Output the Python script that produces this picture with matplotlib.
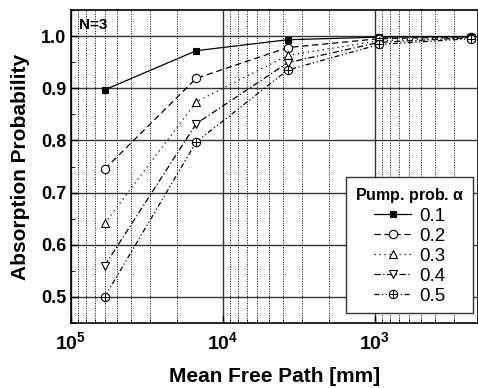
import numpy as np
import matplotlib.pyplot as plt
from matplotlib.path import Path
from matplotlib.ticker import MultipleLocator, LogLocator, NullFormatter

plt.rcParams['font.family'] = ['Liberation Sans', 'DejaVu Sans']
plt.rcParams['mathtext.fontset'] = 'custom'
plt.rcParams['mathtext.rm'] = 'Liberation Sans'
plt.rcParams['mathtext.bf'] = 'Liberation Sans:bold'

# data
mfp = [60000, 15000, 3750, 937.5, 234.4]
alphas = ['0.1', '0.2', '0.3', '0.4', '0.5']
p01 = [0.897, 0.972, 0.993, 0.998, 0.999]
p02 = [0.745, 0.919, 0.978, 0.995, 0.999]
p03 = [0.641, 0.874, 0.963, 0.991, 0.998]
p04 = [0.560, 0.832, 0.949, 0.988, 0.997]
p05 = [0.500, 0.797, 0.935, 0.984, 0.995]
series = [p01, p02, p03, p04, p05]
xtick_vals = [1e5, 1e4, 1e3]
xtick_labs = [r'$\mathbf{10^5}$', r'$\mathbf{10^4}$', r'$\mathbf{10^3}$']

# circle with a cross inside
cross = Path([(-1, 0), (1, 0), (0, -1), (0, 1)],
             [Path.MOVETO, Path.LINETO, Path.MOVETO, Path.LINETO])
oplus = Path.make_compound_path(Path.unit_circle(), cross)

styles = [
    dict(ls='-', marker='s', mfc='black', ms=5),
    dict(ls=(0, (5, 3)), marker='o', mfc='white', ms=6),
    dict(ls=(0, (1, 3)), marker='^', mfc='white', ms=6),
    dict(ls=(0, (5, 2, 1, 2)), marker='v', mfc='white', ms=6),
    dict(ls=(0, (4, 2, 1, 2, 1, 2)), marker=oplus, mfc='white', ms=6),
]

fig = plt.figure(figsize=(4.78, 3.88), dpi=100)
ax = fig.add_axes([71/478, 65/388, 407/478, 313/388])

for y, lab, st in zip(series, alphas, styles):
    ax.plot(mfp, y, color='black', lw=0.9, mec='black', mew=0.8, label=lab, **st)

ax.set_xscale('log')
ax.set_xlim(1e5, 210)
ax.set_ylim(0.45, 1.05)
ax.yaxis.set_major_locator(MultipleLocator(0.1))
ax.yaxis.set_minor_locator(MultipleLocator(0.05))
ax.xaxis.set_minor_locator(LogLocator(base=10, subs=np.arange(2, 10), numticks=20))
ax.xaxis.set_minor_formatter(NullFormatter())
ax.set_xticks(xtick_vals)
ax.set_xticklabels(xtick_labs, fontsize=14)

ax.grid(True, which='major', axis='both', color='#333333', lw=1.0, ls='-')
ax.grid(True, which='minor', axis='x', color='black', lw=0.7, ls=(0, (1, 1.5)))
ax.set_axisbelow(True)

ax.tick_params(which='both', direction='in')
ax.tick_params(which='major', length=5, width=1)
ax.tick_params(which='minor', length=3)
ax.tick_params(axis='x', pad=6)
ax.set_yticks([0.5, 0.6, 0.7, 0.8, 0.9, 1.0])
ax.set_yticklabels(['0.5', '0.6', '0.7', '0.8', '0.9', '1.0'], fontweight='bold', fontsize=13)
for s in ax.spines.values():
    s.set_linewidth(1.2)

ax.set_xlabel('Mean Free Path [mm]', fontsize=15, fontweight='bold', labelpad=10)
ax.set_ylabel('Absorption Probability', fontsize=15, fontweight='bold', labelpad=8)
ax.text(0.02, 0.975, 'N=3', transform=ax.transAxes, fontsize=11, fontweight='bold',
        va='top', ha='left')

leg = ax.legend(title=r'Pump. prob. $\mathbf{\alpha}$', loc='lower right',
                bbox_to_anchor=(0.987, 0.032), borderaxespad=0,
                fontsize=13.5, title_fontsize=11.5,
                frameon=True, fancybox=False, edgecolor='#333333', framealpha=1,
                handlelength=2.0, handletextpad=0.4, labelspacing=0.15, borderpad=0.45)
leg.get_title().set_fontweight('bold')
leg.get_frame().set_linewidth(1.0)

fig.savefig('out.png', dpi=100)
